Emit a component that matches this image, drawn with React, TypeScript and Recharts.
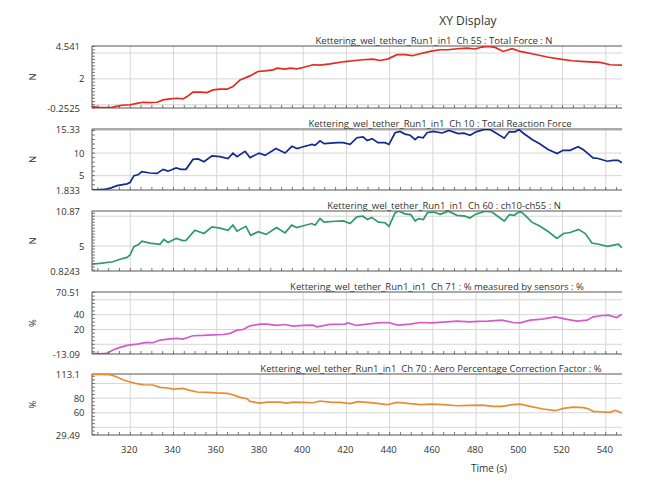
import React from "react";
import { LineChart, Line, XAxis, YAxis, CartesianGrid, ReferenceLine } from "recharts";

const FONT = "'Open Sans', 'Noto Sans', sans-serif";
const TEXT = "#333";
const FRAME = "#555";
const GRID = "#d6d6d6";

const T_MIN = 302.3;
const T_MAX = 547.5;
const X_LABELS = [320, 340, 360, 380, 400, 420, 440, 460, 480, 500, 520, 540];

// Ch 55 : Total Force : N
const ch55Time = [302.3, 306.0, 310.6, 313.0, 316.2, 319.9, 323.1, 325.9, 329.1, 332.4, 335.2, 338.4, 341.6, 344.4, 346.3, 349.0, 352.3, 355.5, 358.3, 361.5, 364.8, 367.5, 370.8, 375.4, 379.1, 382.4, 386.1, 387.9, 391.6, 393.9, 397.2, 399.9, 404.6, 407.8, 412.4, 419.4, 423.1, 427.7, 432.3, 435.6, 439.3, 443.4, 447.1, 450.4, 454.1, 458.7, 463.3, 467.0, 471.2, 475.8, 479.5, 482.8, 485.5, 488.8, 492.5, 496.7, 500.4, 506.4, 512.9, 518.9, 524.4, 530.4, 537.4, 542.0, 547.5];
const ch55Value = [-0.15, -0.23, -0.23, -0.15, -0.04, 0.0, 0.11, 0.19, 0.16, 0.19, 0.37, 0.45, 0.5, 0.45, 0.63, 0.97, 0.97, 0.94, 1.15, 1.2, 1.2, 1.4, 1.92, 2.23, 2.57, 2.62, 2.7, 2.83, 2.75, 2.83, 2.78, 2.88, 3.09, 3.07, 3.16, 3.34, 3.4, 3.48, 3.53, 3.42, 3.55, 3.87, 3.87, 3.79, 3.94, 4.12, 4.25, 4.25, 4.33, 4.38, 4.31, 4.46, 4.51, 4.43, 4.12, 4.33, 4.12, 3.92, 3.69, 3.53, 3.4, 3.34, 3.27, 3.09, 3.07];

// Ch 10 : Total Reaction Force
const ch10Time = [302.3, 304.6, 307.5, 310.6, 313.9, 318.5, 319.9, 321.7, 323.6, 325.4, 329.1, 332.4, 335.2, 337.5, 341.2, 343.5, 345.8, 349.0, 351.4, 354.1, 357.8, 361.5, 365.2, 367.5, 369.4, 373.1, 375.4, 379.6, 382.4, 387.4, 391.6, 394.8, 397.2, 400.0, 404.1, 405.5, 407.8, 409.7, 415.7, 418.4, 421.7, 424.9, 427.7, 429.6, 431.9, 434.6, 437.9, 439.7, 442.5, 444.8, 447.1, 449.5, 451.8, 453.2, 455.5, 457.3, 460.1, 464.3, 467.5, 471.7, 474.4, 477.2, 480.0, 484.2, 486.5, 489.2, 493.0, 495.3, 498.0, 499.9, 501.7, 505.9, 509.6, 513.3, 517.5, 520.2, 523.5, 527.2, 529.5, 531.8, 534.1, 536.5, 540.6, 543.4, 545.7, 547.5];
const ch10Value = [1.85, 1.85, 1.95, 2.2, 2.8, 3.2, 3.5, 5.0, 5.2, 5.9, 5.6, 5.5, 6.4, 6.0, 6.7, 6.4, 6.4, 8.6, 8.7, 8.1, 9.4, 9.2, 8.8, 10.0, 9.2, 10.4, 9.0, 10.0, 9.5, 11.0, 10.0, 11.5, 11.0, 11.4, 11.9, 11.7, 12.7, 12.1, 12.3, 12.3, 11.95, 13.4, 13.6, 12.8, 13.2, 12.3, 12.3, 11.9, 14.5, 14.8, 14.2, 13.95, 13.0, 13.6, 13.4, 14.5, 14.8, 14.45, 15.0, 14.3, 14.4, 13.95, 14.7, 15.3, 15.2, 14.45, 13.3, 14.7, 14.7, 15.2, 14.45, 13.0, 12.0, 10.8, 9.9, 10.6, 10.6, 11.4, 10.8, 9.9, 8.95, 8.8, 8.2, 8.4, 8.4, 7.85];

// Ch 60 : ch10-ch55 : N
const ch60Time = [302.3, 306.0, 312.0, 315.3, 318.5, 319.9, 321.7, 323.6, 325.4, 329.1, 333.7, 335.6, 337.5, 341.2, 344.4, 345.8, 349.9, 354.1, 357.8, 361.5, 365.2, 367.5, 369.4, 373.5, 375.7, 379.2, 382.8, 387.7, 391.6, 394.7, 397.0, 400.1, 404.0, 405.5, 407.8, 409.7, 414.8, 418.6, 421.7, 424.8, 427.6, 429.7, 431.7, 434.8, 437.9, 439.7, 442.5, 444.0, 447.1, 449.8, 451.8, 453.3, 455.6, 457.5, 460.3, 463.4, 467.2, 471.1, 474.9, 477.2, 479.6, 484.2, 487.3, 490.3, 493.0, 495.4, 497.6, 500.4, 502.7, 505.8, 509.6, 513.5, 517.4, 520.4, 523.5, 527.4, 530.5, 533.6, 536.7, 540.6, 543.6, 545.9, 547.5];
const ch60Value = [2.0, 2.1, 2.37, 2.8, 3.1, 3.5, 4.9, 5.2, 5.8, 5.5, 5.3, 6.1, 5.6, 6.27, 5.9, 5.95, 7.65, 7.1, 8.2, 8.0, 7.65, 8.5, 7.5, 8.3, 6.8, 7.4, 6.95, 8.1, 7.2, 8.5, 8.1, 8.4, 8.77, 8.5, 9.6, 9.0, 9.15, 9.2, 8.77, 9.9, 10.0, 9.45, 9.8, 9.0, 8.9, 8.3, 10.55, 10.87, 10.4, 10.27, 9.2, 9.6, 9.45, 10.6, 10.7, 10.3, 10.85, 10.15, 10.0, 9.7, 10.3, 10.85, 10.7, 9.9, 9.2, 10.27, 10.15, 10.85, 10.15, 9.0, 8.3, 7.4, 6.27, 7.1, 7.27, 7.8, 7.1, 5.5, 5.3, 4.95, 5.15, 5.3, 4.7];

// Ch 71 : % measured by sensors : %
const ch71Time = [302.3, 306.0, 309.2, 312.0, 315.3, 318.5, 323.1, 327.8, 330.5, 333.8, 338.4, 341.6, 344.4, 349.0, 353.7, 358.3, 362.9, 366.2, 369.4, 372.2, 375.4, 380.0, 383.3, 387.9, 391.6, 395.3, 399.9, 404.6, 406.4, 412.4, 419.4, 420.8, 424.6, 429.7, 434.3, 439.3, 443.9, 449.5, 454.1, 459.6, 464.7, 471.2, 477.2, 480.5, 485.5, 492.0, 497.1, 500.4, 505.0, 510.5, 516.6, 522.1, 526.7, 531.4, 534.1, 538.8, 541.1, 545.0, 547.5];
const ch71Value = [-12.1, -13.0, -12.3, -7.7, -4.1, -1.4, 0.3, 2.6, 2.1, 5.7, 7.4, 8.0, 7.1, 11.5, 11.9, 12.8, 13.2, 14.7, 19.1, 19.9, 24.9, 27.2, 27.2, 25.4, 26.7, 24.5, 25.4, 25.8, 23.6, 26.8, 27.2, 28.9, 25.4, 27.2, 28.9, 29.4, 25.8, 27.2, 29.4, 28.9, 29.9, 31.2, 30.3, 30.8, 31.2, 32.5, 29.4, 28.9, 32.5, 33.9, 37.0, 33.5, 31.2, 32.5, 37.0, 38.8, 39.2, 36.1, 40.6];

// Ch 70 : Aero Percentage Correction Factor : %
const ch70Time = [302.3, 306.0, 310.6, 313.9, 316.6, 319.9, 323.1, 325.9, 330.5, 333.8, 337.0, 340.0, 344.4, 347.6, 350.9, 355.5, 360.1, 364.8, 367.5, 370.8, 374.0, 375.4, 380.0, 383.3, 389.3, 392.5, 395.3, 399.9, 404.6, 407.8, 412.4, 417.1, 421.7, 425.4, 429.6, 433.3, 438.8, 443.4, 448.5, 454.1, 459.6, 464.7, 471.2, 477.2, 482.8, 487.9, 492.0, 496.7, 500.4, 505.0, 511.0, 516.6, 520.4, 525.0, 529.7, 531.8, 534.1, 538.8, 542.0, 544.3, 547.5];
const ch70Value = [112.6, 112.6, 112.1, 109.0, 105.3, 102.1, 99.8, 98.4, 98.0, 94.7, 93.9, 92.5, 93.4, 90.6, 88.4, 88.0, 87.1, 86.5, 84.7, 81.0, 79.2, 75.5, 73.3, 74.6, 74.6, 73.3, 74.6, 74.2, 73.7, 76.1, 74.6, 74.2, 72.4, 75.1, 74.2, 73.3, 71.0, 74.2, 72.8, 71.0, 71.9, 71.0, 69.6, 70.1, 70.5, 68.7, 68.7, 71.0, 71.9, 68.7, 65.1, 62.8, 66.0, 67.8, 67.0, 65.5, 61.9, 61.0, 60.5, 63.3, 59.6];

function steps(from: number, to: number, step: number) {
  const out: number[] = [];
  for (let v = Math.ceil(from / step) * step; v < to - 1e-9; v += step) {
    const r = Math.round(v * 1000) / 1000;
    if (r > from + 1e-9) out.push(r);
  }
  return out;
}

const near = (a: number, b: number) => Math.abs(a - b) < 1e-6;

type PanelDef = {
  title: string;
  titleX: number;
  unit: string;
  time: number[];
  value: number[];
  domain: [number, number];
  domainText: [string, string];
  labels: number[];
  grid: number[];
  minorStep: number;
  color: string;
  top: number;
  height: number;
};

const PANELS: PanelDef[] = [
  {
    title: "Kettering_wel_tether_Run1_in1  Ch 55 : Total Force : N",
    titleX: 434, unit: "N", time: ch55Time, value: ch55Value,
    domain: [-0.2525, 4.541], domainText: ["-0.2525", "4.541"],
    labels: [2], grid: [0, 2, 4], minorStep: 0.25,
    color: "#e12a22", top: 46, height: 62,
  },
  {
    title: "Kettering_wel_tether_Run1_in1  Ch 10 : Total Reaction Force",
    titleX: 440, unit: "N", time: ch10Time, value: ch10Value,
    domain: [1.833, 15.33], domainText: ["1.833", "15.33"],
    labels: [5, 10], grid: [5, 10, 15], minorStep: 1,
    color: "#0f2b8c", top: 129, height: 61,
  },
  {
    title: "Kettering_wel_tether_Run1_in1  Ch 60 : ch10-ch55 : N",
    titleX: 444, unit: "N", time: ch60Time, value: ch60Value,
    domain: [0.8243, 10.87], domainText: ["0.8243", "10.87"],
    labels: [5], grid: [5, 10], minorStep: 0.5,
    color: "#2e9a6b", top: 211, height: 60,
  },
  {
    title: "Kettering_wel_tether_Run1_in1  Ch 71 : % measured by sensors : %",
    titleX: 437, unit: "%", time: ch71Time, value: ch71Value,
    domain: [-13.09, 70.51], domainText: ["-13.09", "70.51"],
    labels: [20, 40], grid: [0, 20, 40, 60], minorStep: 5,
    color: "#d75ac9", top: 292, height: 62,
  },
  {
    title: "Kettering_wel_tether_Run1_in1  Ch 70 : Aero Percentage Correction Factor : %",
    titleX: 431, unit: "%", time: ch70Time, value: ch70Value,
    domain: [29.49, 113.1], domainText: ["29.49", "113.1"],
    labels: [60, 80], grid: [40, 60, 80, 100], minorStep: 5,
    color: "#ea8b2f", top: 374, height: 61,
  },
];

const PAD_TOP = 8;
const X_AXIS_H = 22;

function Panel({ def, last }: { def: PanelDef; last: boolean }) {
  const data = def.time.map((t, i) => ({ t, v: def.value[i] }));
  const yTicks = [def.domain[0], ...steps(def.domain[0], def.domain[1], def.minorStep), def.domain[1]];
  const xTicks = steps(T_MIN, T_MAX, 5);

  const yTick = (p: any) => {
    const v = p.payload.value;
    if (near(v, def.domain[0]) || near(v, def.domain[1])) {
      const txt = near(v, def.domain[0]) ? def.domainText[0] : def.domainText[1];
      return (
        <text x={p.x - 12} y={p.y + 3.5} textAnchor="end" fontSize={9.5} fill={TEXT} fontFamily={FONT}>
          {txt}
        </text>
      );
    }
    const labelled = def.labels.some((l) => near(l, v));
    return (
      <g>
        <line x1={p.x} x2={p.x + 3} y1={p.y} y2={p.y} stroke={FRAME} strokeWidth={0.8} />
        {labelled && (
          <text x={p.x - 7.5} y={p.y + 3.5} textAnchor="end" fontSize={9.5} fill={TEXT} fontFamily={FONT}>
            {v}
          </text>
        )}
      </g>
    );
  };

  const xTick = (p: any) => {
    const v = p.payload.value;
    const labelled = last && X_LABELS.includes(v);
    return (
      <g>
        <line x1={p.x} x2={p.x} y1={p.y} y2={p.y - 3} stroke={FRAME} strokeWidth={0.8} />
        {labelled && (
          <text x={p.x - 1} y={p.y + 17.5} textAnchor="middle" fontSize={9.5} fill={TEXT} fontFamily={FONT}>
            {v}
          </text>
        )}
      </g>
    );
  };

  return (
    <div style={{ position: "absolute", left: 0, top: def.top - PAD_TOP }}>
      <LineChart
        width={657}
        height={PAD_TOP + def.height + X_AXIS_H}
        data={data}
        margin={{ top: PAD_TOP, right: 35, left: 0, bottom: 0 }}
      >
        <CartesianGrid
          stroke={GRID}
          horizontalValues={def.grid}
          verticalValues={X_LABELS}
        />
        <XAxis
          type="number"
          dataKey="t"
          domain={[T_MIN, T_MAX]}
          allowDataOverflow
          ticks={xTicks}
          interval={0}
          tickLine={false}
          tickSize={0}
          tickMargin={0}
          height={X_AXIS_H}
          axisLine={{ stroke: FRAME }}
          tick={xTick}
        />
        <YAxis
          type="number"
          domain={def.domain}
          allowDataOverflow
          ticks={yTicks}
          interval={0}
          tickLine={false}
          tickSize={0}
          tickMargin={0}
          width={92}
          axisLine={{ stroke: FRAME }}
          tick={yTick}
        />
        <ReferenceLine y={def.domain[1]} stroke={FRAME} strokeWidth={1} />
        <Line
          type="linear"
          dataKey="v"
          stroke={def.color}
          strokeWidth={1.7}
          dot={false}
          isAnimationActive={false}
        />
      </LineChart>
    </div>
  );
}

export default function App() {
  return (
    <div
      style={{
        position: "absolute",
        left: 0,
        top: 0,
        width: 657,
        height: 483,
        background: "#fff",
        fontFamily: FONT,
      }}
    >
      {PANELS.map((p, i) => (
        <Panel key={p.title} def={p} last={i === PANELS.length - 1} />
      ))}
      <svg
        width={657}
        height={483}
        style={{ position: "absolute", left: 0, top: 0, pointerEvents: "none" }}
      >
        <text x={468} y={25} textAnchor="middle" fontSize={12} fill={TEXT} fontFamily={FONT}>
          XY Display
        </text>
        {PANELS.map((p) => (
          <g key={p.title}>
            <text
              x={p.titleX}
              y={p.top - 2.5}
              textAnchor="middle"
              fontSize={9.5}
              fill={TEXT}
              fontFamily={FONT}
              style={{ whiteSpace: "pre" }}
            >
              {p.title}
            </text>
            <text
              x={32}
              y={p.top + p.height / 2}
              textAnchor="middle"
              dominantBaseline="central"
              fontSize={9.5}
              fill={TEXT}
              fontFamily={FONT}
              transform={`rotate(-90 32 ${p.top + p.height / 2})`}
            >
              {p.unit}
            </text>
          </g>
        ))}
        <text x={489} y={472} textAnchor="middle" fontSize={10} fill={TEXT} fontFamily={FONT}>
          Time (s)
        </text>
      </svg>
    </div>
  );
}
